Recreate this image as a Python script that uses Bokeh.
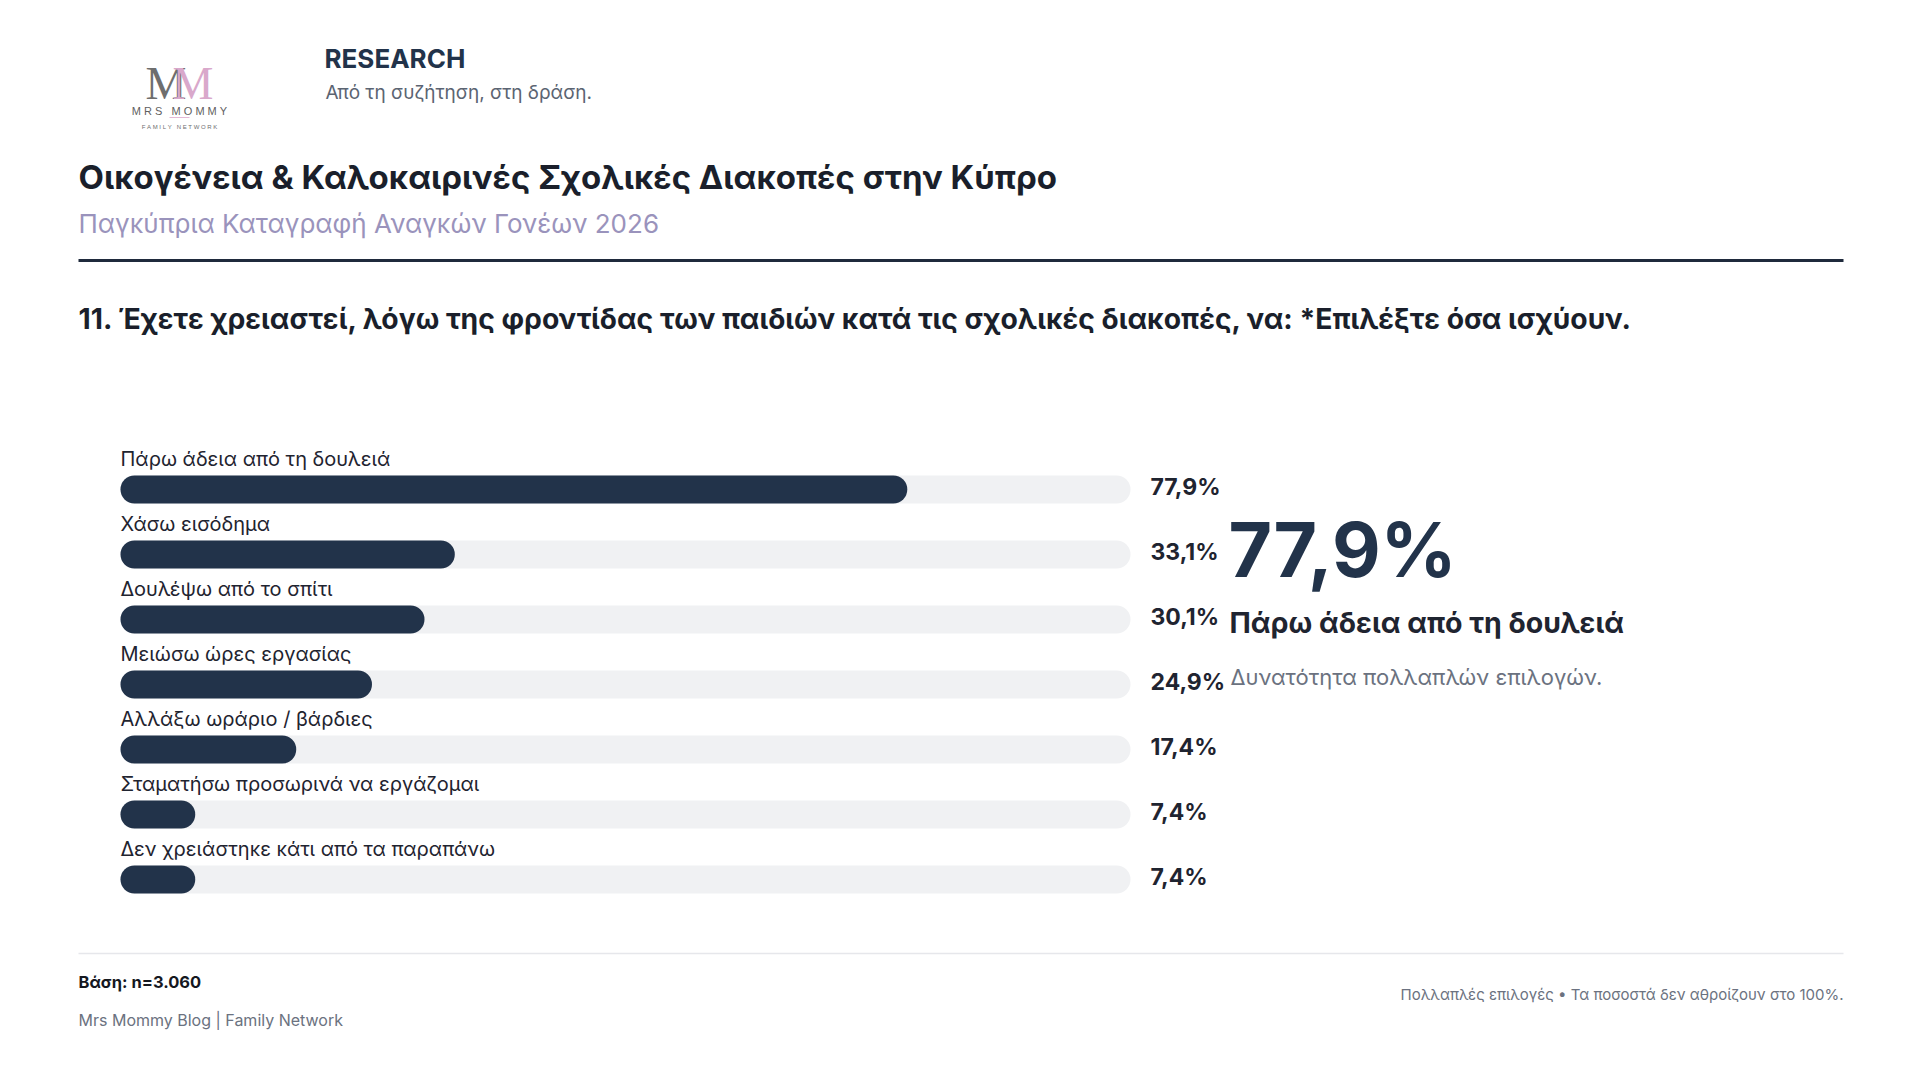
from bokeh.plotting import figure
from bokeh.models import Range1d, ColumnDataSource
from bokeh.embed import file_html
from bokeh.resources import INLINE
from bokeh.core.properties import value

# ---- data ----
categories = [
    "Πάρω άδεια από τη δουλειά",
    "Χάσω εισόδημα",
    "Δουλέψω από το σπίτι",
    "Μειώσω ώρες εργασίας",
    "Αλλάξω ωράριο / βάρδιες",
    "Σταματήσω προσωρινά να εργάζομαι",
    "Δεν χρειάστηκε κάτι από τα παραπάνω",
]
values = [77.9, 33.1, 30.1, 24.9, 17.4, 7.4, 7.4]
value_labels = ["77,9%", "33,1%", "30,1%", "24,9%", "17,4%", "7,4%", "7,4%"]
highlight_value = "77,9%"
highlight_label = "Πάρω άδεια από τη δουλειά"

FONT = "Inter"
NAVY = "#22334a"
DARK = "#1f2430"
GRAY = "#6b7280"
NB = "\u00a0"

W, H = 1904, 1064
p = figure(width=W, height=H, output_backend="svg", toolbar_location=None,
           x_range=Range1d(0, W), y_range=Range1d(H, 0),
           min_border=0, outline_line_color=None, background_fill_color="white",
           border_fill_color="white")
p.axis.visible = False
p.grid.visible = False

# bars scale: 0% at x=120, 100% at x=1130
x0, x100 = 120.0, 1130.0
k = (x100 - x0) / 100.0
p.extra_x_ranges = {"pct": Range1d((0 - x0) / k, (W - x0) / k)}

row0, step = 489.0, 65.0
rows_y = [row0 + step * i for i in range(len(categories))]

src = ColumnDataSource(dict(y=rows_y, v=values, full=[100] * len(values),
                            cat=categories, lab=value_labels,
                            ly=[y - 31 for y in rows_y],
                            vy=[y - 3 for y in rows_y]))

p.hbar(y="y", left=0, right="full", height=28, source=src, x_range_name="pct",
       fill_color="#f0f1f3", line_color=None, border_radius=14)
p.hbar(y="y", left=0, right="v", height=28, source=src, x_range_name="pct",
       fill_color=NAVY, line_color=None, border_radius=14)

p.text(x=x0, y="ly", text="cat", source=src, text_font=value(FONT),
       text_font_size="20px", text_color=DARK, text_baseline="alphabetic",
       text_align="left")
p.text(x=1150, y="vy", text="lab", source=src, text_font=value(FONT),
       text_font_size="23px", text_font_style="bold", text_color=DARK,
       text_baseline="middle", text_align="left")


def t(x, y, s, size, color, style="normal", align="left", font=FONT, baseline="alphabetic"):
    p.text(x=[x], y=[y], text=[s], text_font=value(font), text_font_size=size,
           text_color=color, text_font_style=style, text_align=align,
           text_baseline=baseline)


# logo
t(145, 83, "M", "46px", "#6e6e6e", font="Liberation Serif")
t(172, 83, "M", "46px", "#d9a8cb", font="Liberation Serif")
t(179, 110, NB.join("MRS") + NB * 3 + NB.join("MOMMY"), "11px", "#5f5f5f",
  align="center", font="Liberation Sans")
p.segment(x0=[169], y0=[117], x1=[189], y1=[117], line_color="#e3b8d6", line_width=1)
t(179, 126, NB.join("FAMILY") + NB * 3 + NB.join("NETWORK"), "6px", "#6e6e6e",
  align="center", font="Liberation Sans")

# header
t(324, 58, "RESEARCH", "26px", NAVY, "bold")
t(325, 92, "Από τη συζήτηση, στη δράση.", "19px", "#5b6472")

t(78, 176, "Οικογένεια & Καλοκαιρινές Σχολικές Διακοπές στην Κύπρο", "33px", "#1a1f2b", "bold")
t(78, 223, "Παγκύπρια Καταγραφή Αναγκών Γονέων 2026", "26px", "#9a93bc")
p.segment(x0=[78], y0=[260], x1=[1843], y1=[260], line_color="#1f2a3c", line_width=3)

t(78, 318, "11. Έχετε χρειαστεί, λόγω της φροντίδας των παιδιών κατά τις σχολικές διακοπές, να: *Επιλέξτε όσα ισχύουν.",
  "28.3px", "#1a1f2b", "bold")

# highlight panel
t(1228, 549, highlight_value, "75px", NAVY, "bold")
t(1229, 622, highlight_label, "28.5px", DARK, "bold")
t(1230, 676, "Δυνατότητα πολλαπλών επιλογών.", "22px", GRAY)

# footer
p.segment(x0=[78], y0=[953], x1=[1843], y1=[953], line_color="#e6e7eb", line_width=1.5)
t(78, 981, "Βάση: n=3.060", "16.5px", "#15181f", "bold")
t(78, 1019, "Mrs Mommy Blog | Family Network", "16px", GRAY)
t(1843, 994, "Πολλαπλές επιλογές • Τα ποσοστά δεν αθροίζουν στο 100%.", "15px", GRAY, align="right")

open("out.html", "w").write(file_html(p, INLINE))
